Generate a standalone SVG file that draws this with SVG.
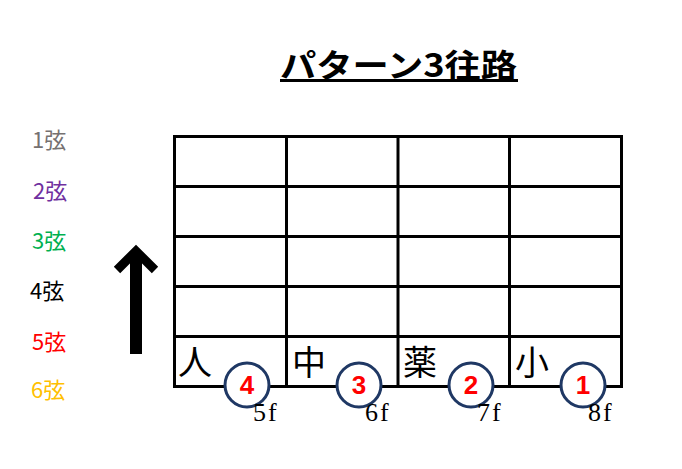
<svg xmlns="http://www.w3.org/2000/svg" width="682" height="469" viewBox="0 0 682 469">
<style>
.grid{stroke:#000;stroke-width:3;fill:none}
.str{font-family:"Noto Sans CJK JP","Noto Sans",sans-serif;font-size:22px}
.ch{font-family:"Noto Sans CJK JP",sans-serif;font-size:34px;fill:#000}
.c{fill:#fff;stroke:#1f3864;stroke-width:3}
.n{font-family:"Liberation Sans",Arial,sans-serif;font-weight:bold;font-size:26px;fill:#ff0000;text-anchor:middle}
.fr{font-family:"Liberation Serif","Times New Roman",serif;font-size:26px;fill:#000;letter-spacing:2px}
</style>
<rect width="682" height="469" fill="#fff"/>
<g id="title">
<text x="280" y="77" font-family="'Noto Sans CJK JP',sans-serif" font-size="32" font-weight="bold" textLength="237" lengthAdjust="spacingAndGlyphs">パターン3往路</text>
<line x1="280" y1="80.5" x2="518" y2="80.5" stroke="#000" stroke-width="3"/>
</g>
<g id="strings">
<text class="str" x="32" y="148" fill="#767171">1弦</text>
<text class="str" x="33" y="199" fill="#7030a0">2弦</text>
<text class="str" x="32" y="249" fill="#00b050">3弦</text>
<text class="str" x="30" y="299" fill="#000">4弦</text>
<text class="str" x="32" y="350" fill="#ff0000">5弦</text>
<text class="str" x="31" y="398" fill="#ffc000">6弦</text>
</g>
<g id="grid" class="grid">
<rect x="174.5" y="136.5" width="447" height="250"/>
<line x1="174.5" y1="186.5" x2="621.5" y2="186.5"/>
<line x1="174.5" y1="236.5" x2="621.5" y2="236.5"/>
<line x1="174.5" y1="286.5" x2="621.5" y2="286.5"/>
<line x1="174.5" y1="336.5" x2="621.5" y2="336.5"/>
<line x1="286.5" y1="136.5" x2="286.5" y2="386.5"/>
<line x1="398" y1="136.5" x2="398" y2="386.5"/>
<line x1="509.5" y1="136.5" x2="509.5" y2="386.5"/>
</g>
<g id="connectors">
<g id="arrow">
<rect x="130" y="256" width="12" height="98" fill="#000"/>
<polyline points="117,270 136,251 155,270" fill="none" stroke="#000" stroke-width="9"/>
</g>
</g>
<g id="fingers">
<text class="ch" x="178" y="375">人</text>
<text class="ch" x="292" y="375">中</text>
<text class="ch" x="403" y="375">薬</text>
<text class="ch" x="515" y="375">小</text>
</g>
<g id="dot4"><circle class="c" cx="247" cy="385" r="22"/><text class="n" x="247" y="394">4</text></g>
<g id="dot3"><circle class="c" cx="359" cy="385" r="22"/><text class="n" x="359" y="394">3</text></g>
<g id="dot2"><circle class="c" cx="471" cy="385" r="22"/><text class="n" x="471" y="394">2</text></g>
<g id="dot1"><circle class="c" cx="583" cy="385" r="22"/><text class="n" x="583" y="394">1</text></g>
<g id="frets">
<text class="fr" x="253" y="421">5f</text>
<text class="fr" x="365" y="421">6f</text>
<text class="fr" x="477" y="421">7f</text>
<text class="fr" x="588" y="421">8f</text>
</g>
</svg>
